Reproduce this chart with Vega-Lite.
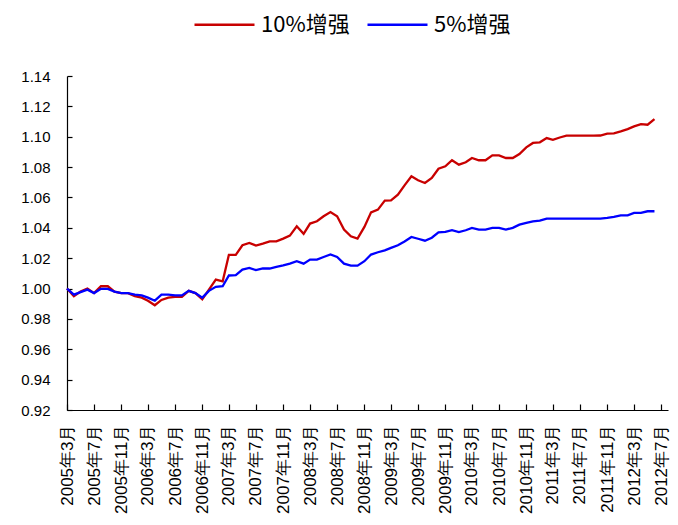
{
  "$schema": "https://vega.github.io/schema/vega-lite/v6.json",
  "width": 601,
  "height": 334,
  "autosize": {"type": "none"},
  "padding": {"left": 67, "top": 76, "right": 10, "bottom": 115},
  "background": "white",
  "config": {
    "view": {"stroke": null},
    "font": "Liberation Sans"
  },
  "data": {
    "values": [
      {"m": "2005-03", "10%增强": 1.000, "5%增强": 1.000},
      {"m": "2005-04", "10%增强": 0.995, "5%增强": 0.996},
      {"m": "2005-05", "10%增强": 0.998, "5%增强": 0.9976},
      {"m": "2005-06", "10%增强": 1.000, "5%增强": 0.9993},
      {"m": "2005-07", "10%增强": 0.997, "5%增强": 0.997},
      {"m": "2005-08", "10%增强": 1.0015, "5%增强": 0.9998},
      {"m": "2005-09", "10%增强": 1.0015, "5%增强": 0.9998},
      {"m": "2005-10", "10%增强": 0.998, "5%增强": 0.998},
      {"m": "2005-11", "10%增强": 0.997, "5%增强": 0.997},
      {"m": "2005-12", "10%增强": 0.997, "5%增强": 0.997},
      {"m": "2006-01", "10%增强": 0.995, "5%增强": 0.996},
      {"m": "2006-02", "10%增强": 0.994, "5%增强": 0.9955},
      {"m": "2006-03", "10%增强": 0.992, "5%增强": 0.994},
      {"m": "2006-04", "10%增强": 0.989, "5%增强": 0.992},
      {"m": "2006-05", "10%增强": 0.9925, "5%增强": 0.996},
      {"m": "2006-06", "10%增强": 0.994, "5%增强": 0.996},
      {"m": "2006-07", "10%增强": 0.9945, "5%增强": 0.9955},
      {"m": "2006-08", "10%增强": 0.9945, "5%增强": 0.9955},
      {"m": "2006-09", "10%增强": 0.9985, "5%增强": 0.9985},
      {"m": "2006-10", "10%增强": 0.997, "5%增强": 0.997},
      {"m": "2006-11", "10%增强": 0.993, "5%增强": 0.994},
      {"m": "2006-12", "10%增强": 0.9993, "5%增强": 0.9985},
      {"m": "2007-01", "10%增强": 1.0059, "5%增强": 1.0011},
      {"m": "2007-02", "10%增强": 1.0048, "5%增强": 1.0015},
      {"m": "2007-03", "10%增强": 1.0222, "5%增强": 1.0086},
      {"m": "2007-04", "10%增强": 1.0222, "5%增强": 1.0088},
      {"m": "2007-05", "10%增强": 1.0285, "5%增强": 1.0125},
      {"m": "2007-06", "10%增强": 1.0300, "5%增强": 1.0136},
      {"m": "2007-07", "10%增强": 1.0283, "5%增强": 1.0121},
      {"m": "2007-08", "10%增强": 1.0296, "5%增强": 1.0132},
      {"m": "2007-09", "10%增强": 1.0311, "5%增强": 1.0132},
      {"m": "2007-10", "10%增强": 1.0311, "5%增强": 1.0143},
      {"m": "2007-11", "10%增强": 1.0329, "5%增强": 1.0152},
      {"m": "2007-12", "10%增强": 1.0349, "5%增强": 1.0164},
      {"m": "2008-01", "10%增强": 1.0410, "5%增强": 1.0180},
      {"m": "2008-02", "10%增强": 1.0360, "5%增强": 1.0164},
      {"m": "2008-03", "10%增强": 1.0428, "5%增强": 1.0191},
      {"m": "2008-04", "10%增强": 1.0443, "5%增强": 1.0191},
      {"m": "2008-05", "10%增强": 1.0476, "5%增强": 1.0208},
      {"m": "2008-06", "10%增强": 1.0504, "5%增强": 1.0224},
      {"m": "2008-07", "10%增强": 1.0476, "5%增强": 1.0208},
      {"m": "2008-08", "10%增强": 1.0388, "5%增强": 1.0164},
      {"m": "2008-09", "10%增强": 1.0344, "5%增强": 1.0151},
      {"m": "2008-10", "10%增强": 1.0329, "5%增强": 1.0151},
      {"m": "2008-11", "10%增强": 1.0406, "5%增强": 1.0180},
      {"m": "2008-12", "10%增强": 1.0502, "5%增强": 1.0224},
      {"m": "2009-01", "10%增强": 1.0520, "5%增强": 1.0239},
      {"m": "2009-02", "10%增强": 1.0579, "5%增强": 1.0252},
      {"m": "2009-03", "10%增强": 1.0581, "5%增强": 1.0268},
      {"m": "2009-04", "10%增强": 1.0618, "5%增强": 1.0285},
      {"m": "2009-05", "10%增强": 1.0680, "5%增强": 1.0310},
      {"m": "2009-06", "10%增强": 1.0739, "5%增强": 1.0340},
      {"m": "2009-07", "10%增强": 1.0713, "5%增强": 1.0328},
      {"m": "2009-08", "10%增强": 1.0695, "5%增强": 1.0315},
      {"m": "2009-09", "10%增强": 1.0728, "5%增强": 1.0335},
      {"m": "2009-10", "10%增强": 1.0789, "5%增强": 1.0370},
      {"m": "2009-11", "10%增强": 1.0805, "5%增强": 1.0373},
      {"m": "2009-12", "10%增强": 1.0845, "5%增强": 1.0384},
      {"m": "2010-01", "10%增强": 1.0816, "5%增强": 1.0372},
      {"m": "2010-02", "10%增强": 1.0832, "5%增强": 1.0384},
      {"m": "2010-03", "10%增强": 1.0860, "5%增强": 1.0399},
      {"m": "2010-04", "10%增强": 1.0845, "5%增强": 1.0388},
      {"m": "2010-05", "10%增强": 1.0845, "5%增强": 1.0388},
      {"m": "2010-06", "10%增强": 1.0877, "5%增强": 1.0399},
      {"m": "2010-07", "10%增强": 1.0877, "5%增强": 1.0399},
      {"m": "2010-08", "10%增强": 1.0860, "5%增强": 1.0388},
      {"m": "2010-09", "10%增强": 1.0860, "5%增强": 1.0400},
      {"m": "2010-10", "10%增强": 1.0886, "5%增强": 1.0421},
      {"m": "2010-11", "10%增强": 1.0930, "5%增强": 1.0432},
      {"m": "2010-12", "10%增强": 1.0959, "5%增强": 1.0443},
      {"m": "2011-01", "10%增强": 1.0963, "5%增强": 1.0447},
      {"m": "2011-02", "10%增强": 1.0991, "5%增强": 1.0461},
      {"m": "2011-03", "10%增强": 1.0980, "5%增强": 1.0461},
      {"m": "2011-04", "10%增强": 1.0995, "5%增强": 1.0461},
      {"m": "2011-05", "10%增强": 1.1007, "5%增强": 1.0461},
      {"m": "2011-06", "10%增强": 1.1007, "5%增强": 1.0461},
      {"m": "2011-07", "10%增强": 1.1007, "5%增强": 1.0461},
      {"m": "2011-08", "10%增强": 1.1007, "5%增强": 1.0461},
      {"m": "2011-09", "10%增强": 1.1007, "5%增强": 1.0461},
      {"m": "2011-10", "10%增强": 1.1008, "5%增强": 1.0461},
      {"m": "2011-11", "10%增强": 1.1020, "5%增强": 1.0465},
      {"m": "2011-12", "10%增强": 1.1022, "5%增强": 1.0472},
      {"m": "2012-01", "10%增强": 1.1035, "5%增强": 1.0482},
      {"m": "2012-02", "10%增强": 1.1050, "5%增强": 1.0482},
      {"m": "2012-03", "10%增强": 1.1068, "5%增强": 1.0498},
      {"m": "2012-04", "10%增强": 1.1083, "5%增强": 1.0498},
      {"m": "2012-05", "10%增强": 1.1079, "5%增强": 1.0509},
      {"m": "2012-06", "10%增强": 1.1116, "5%增强": 1.0509}
    ]
  },
  "transform": [
    {"fold": ["10%增强", "5%增强"], "as": ["series", "value"]}
  ],
  "mark": {"type": "line", "strokeWidth": 2.3, "clip": false},
  "encoding": {
    "x": {
      "field": "m",
      "type": "temporal",
      "scale": {
        "type": "utc",
        "domain": [
          {"year": 2005, "month": 3, "date": 1, "utc": true},
          {"year": 2012, "month": 8, "date": 1, "utc": true}
        ],
        "nice": false
      },
      "axis": {
        "title": null,
        "grid": false,
        "values": [
          {"year": 2005, "month": 3, "date": 1, "utc": true},
          {"year": 2005, "month": 7, "date": 1, "utc": true},
          {"year": 2005, "month": 11, "date": 1, "utc": true},
          {"year": 2006, "month": 3, "date": 1, "utc": true},
          {"year": 2006, "month": 7, "date": 1, "utc": true},
          {"year": 2006, "month": 11, "date": 1, "utc": true},
          {"year": 2007, "month": 3, "date": 1, "utc": true},
          {"year": 2007, "month": 7, "date": 1, "utc": true},
          {"year": 2007, "month": 11, "date": 1, "utc": true},
          {"year": 2008, "month": 3, "date": 1, "utc": true},
          {"year": 2008, "month": 7, "date": 1, "utc": true},
          {"year": 2008, "month": 11, "date": 1, "utc": true},
          {"year": 2009, "month": 3, "date": 1, "utc": true},
          {"year": 2009, "month": 7, "date": 1, "utc": true},
          {"year": 2009, "month": 11, "date": 1, "utc": true},
          {"year": 2010, "month": 3, "date": 1, "utc": true},
          {"year": 2010, "month": 7, "date": 1, "utc": true},
          {"year": 2010, "month": 11, "date": 1, "utc": true},
          {"year": 2011, "month": 3, "date": 1, "utc": true},
          {"year": 2011, "month": 7, "date": 1, "utc": true},
          {"year": 2011, "month": 11, "date": 1, "utc": true},
          {"year": 2012, "month": 3, "date": 1, "utc": true},
          {"year": 2012, "month": 7, "date": 1, "utc": true}
        ],
        "labelExpr": "utcFormat(datum.value, '%Y') + '年' + (utcmonth(datum.value) + 1) + '月'",
        "labelAngle": 270,
        "labelAlign": "right",
        "labelBaseline": "middle",
        "labelFont": "Liberation Sans",
        "labelFontSize": 17,
        "labelColor": "#000000",
        "labelPadding": 20,
        "labelOverlap": false,
        "labelBound": false,
        "labelFlush": false,
        "domainColor": "#000000",
        "domainWidth": 1.2,
        "tickColor": "#000000",
        "tickSize": -6,
        "tickWidth": 1.2
      }
    },
    "y": {
      "field": "value",
      "type": "quantitative",
      "scale": {"domain": [0.92, 1.14], "nice": false, "zero": false},
      "axis": {
        "title": null,
        "grid": false,
        "values": [0.92, 0.94, 0.96, 0.98, 1.00, 1.02, 1.04, 1.06, 1.08, 1.10, 1.12, 1.14],
        "format": ".2f",
        "labelFont": "Liberation Sans",
        "labelFontSize": 15,
        "labelColor": "#000000",
        "labelPadding": 22,
        "labelFlush": false,
        "domainColor": "#000000",
        "domainWidth": 1.2,
        "tickColor": "#000000",
        "tickSize": -5,
        "tickWidth": 1.2
      }
    },
    "color": {
      "field": "series",
      "type": "nominal",
      "scale": {"domain": ["10%增强", "5%增强"], "range": ["#C80000", "#0000FF"]},
      "legend": {
        "title": null,
        "orient": "none",
        "legendX": 126,
        "legendY": -83,
        "direction": "horizontal",
        "symbolType": "stroke",
        "symbolSize": 3600,
        "symbolStrokeWidth": 2.5,
        "labelFont": "Noto Sans CJK SC",
        "labelFontSize": 22,
        "labelColor": "#000000",
        "labelOffset": 5,
        "columnPadding": 12,
        "padding": 0,
        "labelLimit": 300
      }
    }
  }
}
